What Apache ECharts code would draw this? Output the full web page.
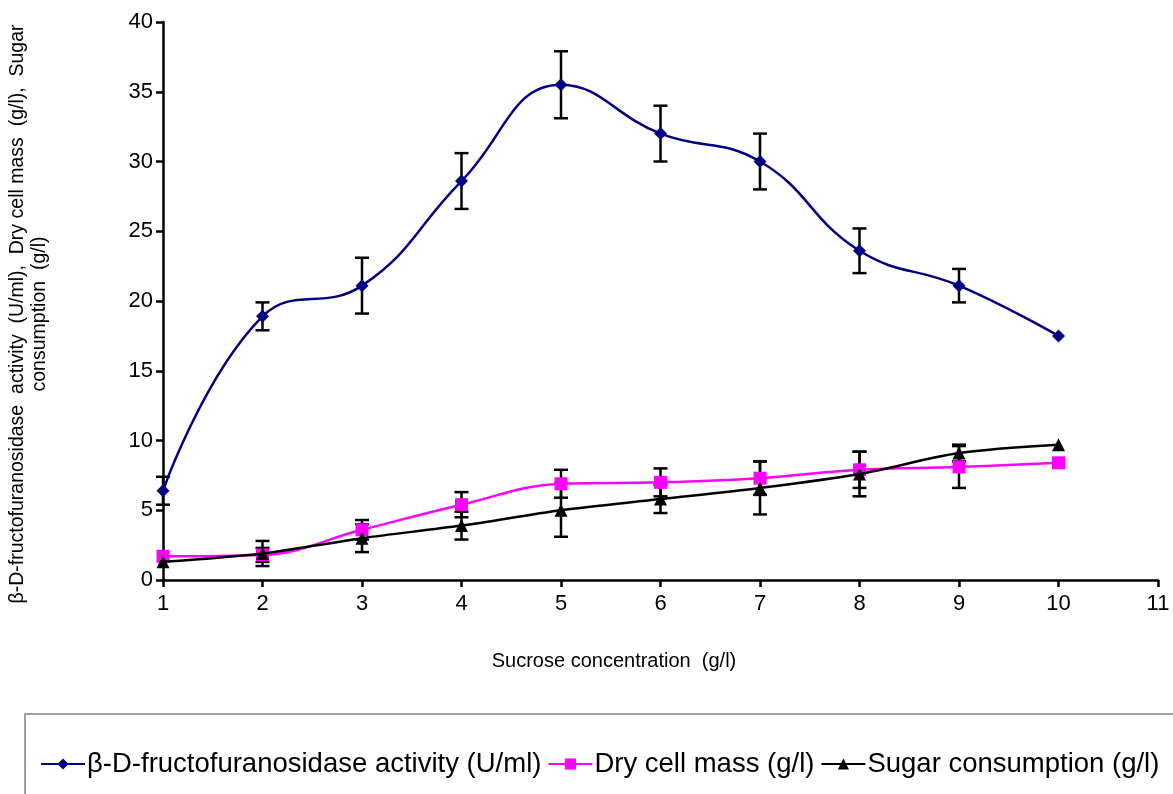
<!DOCTYPE html>
<html>
<head>
<meta charset="utf-8">
<script src="https://cdn.jsdelivr.net/npm/echarts@6/dist/echarts.min.js"></script>
<style>
  html, body { margin: 0; padding: 0; background: #fff; }
  #chart { width: 1173px; height: 794px; }
</style>
</head>
<body>
<div id="chart"></div>
<script>
// sucrose concentration (g/l)
var conc = [1, 2, 3, 4, 5, 6, 7, 8, 9, 10]
// enzyme activity (U/ml) and its error
var activity = [6.4, 18.9, 21.1, 28.6, 35.5, 32.0, 30.0, 23.6, 21.1, 17.5]
var activityErr = [1.0, 1.0, 2.0, 2.0, 2.4, 2.0, 2.0, 1.6, 1.2, 0]
// dry cell mass (g/l)
var cellMass = [1.7, 1.8, 3.6, 5.4, 6.9, 7.0, 7.3, 7.9, 8.1, 8.4]
var cellMassErr = [0, 0.5, 0.7, 0.9, 1.0, 1.0, 1.2, 1.3, 1.5, 0]
// sugar consumption (g/l)
var sugar = [1.3, 1.9, 3.0, 3.9, 5.0, 5.8, 6.6, 7.6, 9.1, 9.7]
var sugarErr = [0, 0.9, 1.0, 1.0, 1.9, 1.0, 1.9, 1.6, 0.6, 0]

var names = ['β-D-fructofuranosidase activity (U/ml)', 'Dry cell mass (g/l)', 'Sugar consumption (g/l)']
var fontFam = 'Liberation Sans, Arial, sans-serif'

function pairs(vals) {
  return conc.map(function(x, i) { return [x, vals[i]] })
}
function errData(vals, errs) {
  var out = []
  conc.forEach(function(x, i) {
    if (errs[i] > 0) out.push([x, vals[i] - errs[i], vals[i] + errs[i]])
  })
  return out
}

// 误差线
function renderErr(params, api) {
  var lo = api.coord([api.value(0), api.value(1)])
  var hi = api.coord([api.value(0), api.value(2)])
  var w = 7
  var st = { stroke: '#000', lineWidth: 2.5 }
  return {
    type: 'group',
    children: [
      { type: 'line', shape: { x1: hi[0], y1: hi[1], x2: lo[0], y2: lo[1] }, style: st },
      { type: 'line', shape: { x1: hi[0] - w, y1: hi[1], x2: hi[0] + w, y2: hi[1] }, style: st },
      { type: 'line', shape: { x1: lo[0] - w, y1: lo[1], x2: lo[0] + w, y2: lo[1] }, style: st }
    ]
  }
}

var myChart = echarts.init(document.getElementById('chart'))
var option = {
  backgroundColor: '#fff',
  animation: false,
  textStyle: { fontFamily: fontFam },
  grid: { left: 163, right: 15, top: 22, bottom: 214, containLabel: false },
  xAxis: {
    type: 'value',
    min: 1,
    max: 11,
    interval: 1,
    splitLine: { show: false },
    axisLine: { lineStyle: { color: '#000', width: 2.5 } },
    axisTick: { length: 7, lineStyle: { color: '#000', width: 2.5 } },
    axisLabel: { color: '#000', fontSize: 22, margin: 13 }
  },
  yAxis: {
    type: 'value',
    min: 0,
    max: 40,
    interval: 5,
    splitLine: { show: false },
    axisLine: { show: true, lineStyle: { color: '#000', width: 2.5 } },
    axisTick: { show: true, length: 7, lineStyle: { color: '#000', width: 2.5 } },
    axisLabel: { color: '#000', fontSize: 22, margin: 10 }
  },
  legend: {
    left: 35,
    top: 745,
    width: 1400,
    itemWidth: 44,
    itemHeight: 14,
    itemGap: 6,
    textStyle: { color: '#000', fontSize: 27.5, padding: [0, 0, 0, -3] },
    data: names
  },
  graphic: [
    {
      type: 'rect',
      shape: { x: 25, y: 714, width: 1170, height: 100 },
      style: { fill: 'none', stroke: '#808080', lineWidth: 1.5 },
      z: -1
    },
    {
      type: 'text',
      x: 614,
      y: 661,
      style: { text: 'Sucrose concentration  (g/l)', fill: '#000', font: '20px ' + fontFam, align: 'center', verticalAlign: 'middle' }
    },
    {
      type: 'text',
      x: 29,
      y: 314,
      rotation: Math.PI / 2,
      style: {
        text: 'β-D-fructofuranosidase  activity  (U/ml),  Dry cell mass  (g/l),  Sugar\nconsumption  (g/l)',
        fill: '#000',
        font: '19.5px ' + fontFam,
        align: 'center',
        verticalAlign: 'middle',
        lineHeight: 22
      }
    }
  ],
  series: [
    {
      type: 'custom',
      renderItem: renderErr,
      data: errData(activity, activityErr),
      z: 1,
      silent: true
    },
    {
      type: 'custom',
      renderItem: renderErr,
      data: errData(cellMass, cellMassErr),
      z: 1,
      silent: true
    },
    {
      type: 'custom',
      renderItem: renderErr,
      data: errData(sugar, sugarErr),
      z: 1,
      silent: true
    },
    {
      name: names[0],
      type: 'line',
      smooth: 0.45,
      symbol: 'diamond',
      symbolSize: 13,
      itemStyle: { color: '#000080' },
      lineStyle: { color: '#000080', width: 2.5 },
      data: pairs(activity),
      z: 3
    },
    {
      name: names[1],
      type: 'line',
      smooth: 0.4,
      symbol: 'rect',
      symbolSize: 13,
      itemStyle: { color: '#ff00ff' },
      lineStyle: { color: '#ff00ff', width: 2.5 },
      data: pairs(cellMass),
      z: 3
    },
    {
      name: names[2],
      type: 'line',
      smooth: 0.3,
      symbol: 'triangle',
      symbolSize: 13,
      itemStyle: { color: '#000' },
      lineStyle: { color: '#000', width: 2.5 },
      data: pairs(sugar),
      z: 4
    }
  ]
}
option && myChart.setOption(option)
</script>
</body>
</html>
